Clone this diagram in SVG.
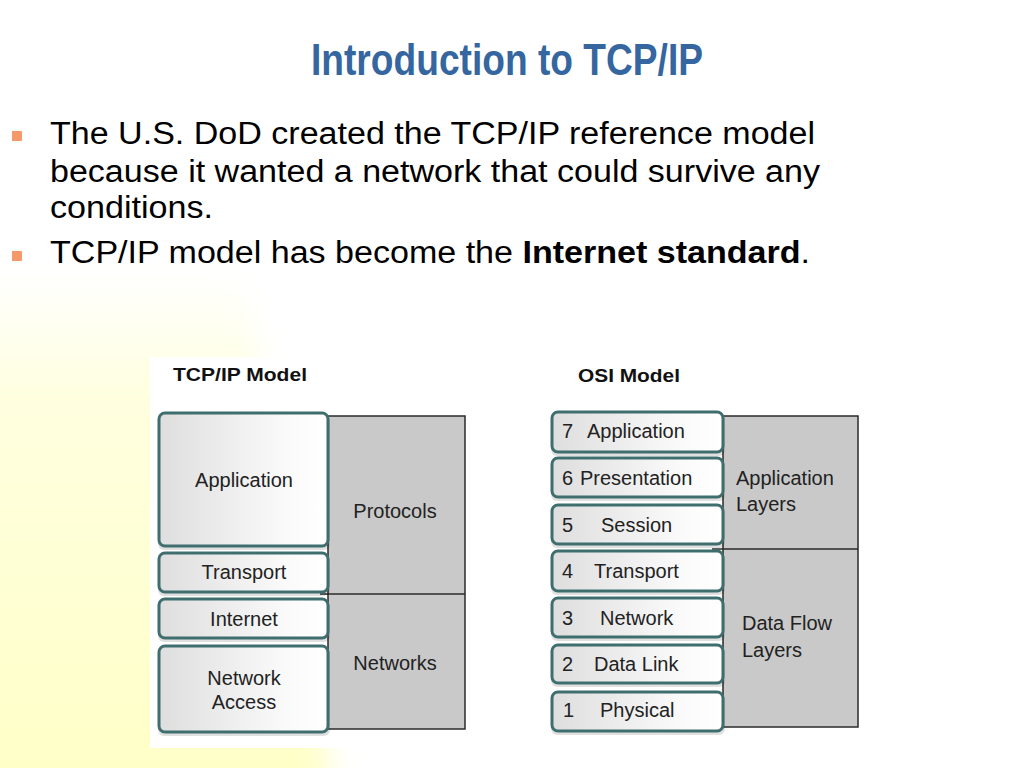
<svg xmlns="http://www.w3.org/2000/svg" width="1024" height="768" viewBox="0 0 1024 768">
<defs>
<linearGradient id="bgGlow" gradientUnits="userSpaceOnUse" x1="0" y1="270" x2="0" y2="768">
<stop offset="0" stop-color="#FFFFFF"/>
<stop offset="0.25" stop-color="#FFFFE0"/>
<stop offset="1" stop-color="#FFFFC8"/>
</linearGradient>
<filter id="soft" x="-20%" y="-20%" width="140%" height="140%">
<feGaussianBlur stdDeviation="14"/>
</filter>
<linearGradient id="boxFill" x1="0" y1="0" x2="1" y2="0">
<stop offset="0" stop-color="#DEDEDE"/>
<stop offset="0.75" stop-color="#FAFAFA"/>
<stop offset="1" stop-color="#FFFFFF"/>
</linearGradient>
<style>
.title{font-family:"Liberation Sans Narrow","Liberation Sans",Arial,sans-serif;font-weight:bold;font-size:44px;fill:#3566A0}
.body{font-family:"Liberation Sans",Arial,sans-serif;font-size:31px;fill:#000}
.bullet{fill:#F79A6A}
.lbl{font-family:"Liberation Sans",Arial,sans-serif;font-size:20px;fill:#222}
.hdr{font-family:"Liberation Sans",Arial,sans-serif;font-size:19px;font-weight:bold;fill:#111}
.layer{fill:url(#boxFill);stroke:#3F6E6E;stroke-width:3}
.shadow{fill:#000;opacity:0.12}
.panel{fill:#C9C9C9;stroke:#2A2A2A;stroke-width:1.5}
.div{stroke:#2A2A2A;stroke-width:1.5}
</style>
</defs>

<rect x="0" y="0" width="1024" height="768" fill="#FFFFFF"/>
<polygon points="-40,275 245,275 335,800 -40,800" fill="url(#bgGlow)" filter="url(#soft)"/>

<!-- Title and bullets -->
<text class="title" x="311" y="75" textLength="392" lengthAdjust="spacingAndGlyphs">Introduction to TCP/IP</text>
<rect class="bullet" x="12" y="131" width="10" height="10"/>
<text class="body" x="50" y="144" textLength="765" lengthAdjust="spacingAndGlyphs">The U.S. DoD created the TCP/IP reference model</text>
<text class="body" x="50" y="182" textLength="770" lengthAdjust="spacingAndGlyphs">because it wanted a network that could survive any</text>
<text class="body" x="50" y="218" textLength="163" lengthAdjust="spacingAndGlyphs">conditions.</text>
<rect class="bullet" x="12" y="251" width="10" height="10"/>
<text class="body" x="50" y="263" textLength="760" lengthAdjust="spacingAndGlyphs">TCP/IP model has become the <tspan font-weight="bold">Internet standard</tspan>.</text>

<!-- image backgrounds -->
<rect x="150" y="357" width="330" height="391" fill="#FFFFFF"/>
<rect x="545" y="357" width="320" height="391" fill="#FFFFFF"/>

<!-- TCP/IP model -->
<g id="tcpip-model">
<text class="hdr" x="173" y="381" textLength="134" lengthAdjust="spacingAndGlyphs">TCP/IP Model</text>
<g id="tcp-panels">
<rect class="panel" x="328" y="416" width="137" height="313"/>
<line class="div" x1="320" y1="594" x2="465" y2="594"/>
<text class="lbl" x="395" y="518" text-anchor="middle">Protocols</text>
<text class="lbl" x="395" y="670" text-anchor="middle">Networks</text>
</g>
<g id="tcp-application">
<rect class="shadow" x="158" y="415" width="172" height="135" rx="6"/>
<rect class="layer" x="159" y="413" width="169" height="133" rx="6"/>
<text class="lbl" x="244" y="487" text-anchor="middle">Application</text>
</g>
<g id="tcp-transport">
<rect class="shadow" x="158" y="555" width="172" height="41" rx="6"/>
<rect class="layer" x="159" y="553" width="169" height="39" rx="6"/>
<text class="lbl" x="244" y="579" text-anchor="middle">Transport</text>
</g>
<g id="tcp-internet">
<rect class="shadow" x="158" y="601" width="172" height="41" rx="6"/>
<rect class="layer" x="159" y="599" width="169" height="39" rx="6"/>
<text class="lbl" x="244" y="626" text-anchor="middle">Internet</text>
</g>
<g id="tcp-network-access">
<rect class="shadow" x="158" y="648" width="172" height="88" rx="6"/>
<rect class="layer" x="159" y="646" width="169" height="86" rx="6"/>
<text class="lbl" x="244" y="685" text-anchor="middle">Network</text>
<text class="lbl" x="244" y="709" text-anchor="middle">Access</text>
</g>
</g>

<!-- OSI model -->
<g id="osi-model">
<text class="hdr" x="578" y="382" textLength="102" lengthAdjust="spacingAndGlyphs">OSI Model</text>
<g id="osi-panels">
<rect class="panel" x="723" y="416" width="135" height="311"/>
<line class="div" x1="712" y1="549" x2="858" y2="549"/>
<text class="lbl" x="736" y="485">Application</text>
<text class="lbl" x="736" y="511">Layers</text>
<text class="lbl" x="742" y="630">Data Flow</text>
<text class="lbl" x="742" y="657">Layers</text>
</g>
<g id="osi-7">
<rect class="shadow" x="551" y="414" width="174" height="42" rx="6"/>
<rect class="layer" x="552" y="412" width="171" height="40" rx="6"/>
<text class="lbl" x="562" y="438">7</text>
<text class="lbl" x="587" y="438">Application</text>
</g>
<g id="osi-6">
<rect class="shadow" x="551" y="460" width="174" height="41" rx="6"/>
<rect class="layer" x="552" y="458" width="171" height="39" rx="6"/>
<text class="lbl" x="562" y="485">6</text>
<text class="lbl" x="580" y="485">Presentation</text>
</g>
<g id="osi-5">
<rect class="shadow" x="551" y="507" width="174" height="41" rx="6"/>
<rect class="layer" x="552" y="505" width="171" height="39" rx="6"/>
<text class="lbl" x="562" y="532">5</text>
<text class="lbl" x="601" y="532">Session</text>
</g>
<g id="osi-4">
<rect class="shadow" x="551" y="553" width="174" height="42" rx="6"/>
<rect class="layer" x="552" y="551" width="171" height="40" rx="6"/>
<text class="lbl" x="562" y="578">4</text>
<text class="lbl" x="594" y="578">Transport</text>
</g>
<g id="osi-3">
<rect class="shadow" x="551" y="600" width="174" height="41" rx="6"/>
<rect class="layer" x="552" y="598" width="171" height="39" rx="6"/>
<text class="lbl" x="562" y="625">3</text>
<text class="lbl" x="600" y="625">Network</text>
</g>
<g id="osi-2">
<rect class="shadow" x="551" y="647" width="174" height="40" rx="6"/>
<rect class="layer" x="552" y="645" width="171" height="38" rx="6"/>
<text class="lbl" x="562" y="671">2</text>
<text class="lbl" x="594" y="671">Data Link</text>
</g>
<g id="osi-1">
<rect class="shadow" x="551" y="694" width="174" height="41" rx="6"/>
<rect class="layer" x="552" y="692" width="171" height="39" rx="6"/>
<text class="lbl" x="563" y="717">1</text>
<text class="lbl" x="600" y="717">Physical</text>
</g>
</g>

<g id="connectors"></g>
</svg>
